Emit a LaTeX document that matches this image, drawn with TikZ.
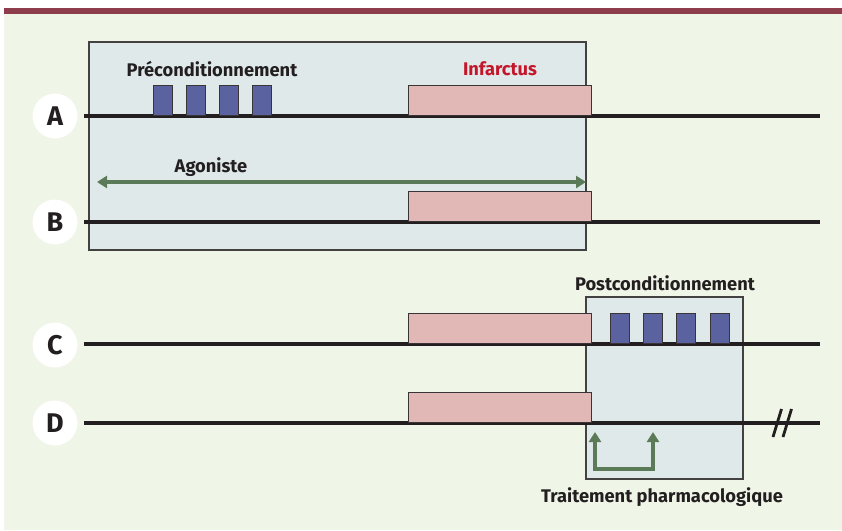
\documentclass[tikz,border=0pt]{standalone}
\usepackage{fontspec}
\setmainfont{Fira Sans}
\usetikzlibrary{arrows.meta}
\definecolor{bg}{HTML}{EFF5E7}
\definecolor{band}{HTML}{8E3D4D}
\definecolor{zone}{HTML}{E0E9EA}
\definecolor{pulse}{HTML}{5A63A0}
\definecolor{infc}{HTML}{E2B8B7}
\definecolor{agc}{HTML}{5B7B58}
\definecolor{redtxt}{HTML}{C4162B}
\definecolor{ink}{HTML}{231F20}
\tikzset{
  zonebox/.style={draw=ink!85, line width=1.5pt, fill=zone},
  tline/.style={draw=ink, line width=3.2pt},
  pulsebox/.style={draw=ink!90, line width=1.3pt, fill=pulse, anchor=south west, minimum width=19pt, minimum height=30pt, inner sep=0pt},
  infbox/.style={draw=ink!90, line width=1.3pt, fill=infc, anchor=south west, minimum width=183pt, minimum height=30pt, inner sep=0pt},
  letter/.style={circle, fill=white, minimum size=45pt, inner sep=0pt, font=\fontsize{27}{27}\selectfont\bfseries, text=ink},
  lab/.style={font=\fontsize{18.3}{19}\selectfont\bfseries, text=ink, inner sep=0pt},
  garrow/.style={draw=agc, line width=3.6pt, {Triangle[length=10pt,width=12pt]}-{Triangle[length=10pt,width=12pt]}},
  brk/.style={draw=ink, line width=2.8pt}
}
\begin{document}
\begin{tikzpicture}[x=1pt,y=-1pt]
\useasboundingbox (0,0) rectangle (842,530);
\fill[white] (0,0) rectangle (842,530);
\fill[bg] (4,13) rectangle (842,530);
\fill[band] (4,8) rectangle (842,13.5);
% zones
\draw[zonebox] (89,42) rectangle (586,250);
\draw[zonebox] (586,297) rectangle (743,479);
% timelines
\coordinate (A0) at (84,116); \coordinate (A1) at (820,116);
\coordinate (B0) at (84,222); \coordinate (B1) at (820,222);
\coordinate (C0) at (84,344); \coordinate (C1) at (820,344);
\coordinate (D0) at (84,423); \coordinate (D1) at (820,423);
\draw[tline] (A0) -- (A1);
\draw[tline] (B0) -- (B1);
\draw[tline] (C0) -- (C1);
\draw[tline] (D0) -- (D1);
% infarct boxes
\node[infbox] (iA) at (408,116) {};
\node[infbox] (iB) at (408,222) {};
\node[infbox] (iC) at (408,344) {};
\node[infbox] (iD) at (408,423) {};
% pulses
\node[pulsebox] (p1) at (153,116) {};
\node[pulsebox] (p2) at (186,116) {};
\node[pulsebox] (p3) at (219,116) {};
\node[pulsebox] (p4) at (252,116) {};
\node[pulsebox] (q1) at (609.5,344) {};
\node[pulsebox] (q2) at (642.5,344) {};
\node[pulsebox] (q3) at (676,344) {};
\node[pulsebox] (q4) at (709.5,344) {};
% letters
\node[letter] (LA) at (55,116) {A};
\node[letter] (LB) at (55,222) {B};
\node[letter] (LC) at (55,345) {C};
\node[letter] (LD) at (55,423) {D};
% labels
\node[lab] (tpre) at (212,69) {Préconditionnement};
\node[lab, text=redtxt] (tinf) at (500,69) {Infarctus};
\node[lab] (tago) at (211,167) {Agoniste};
\node[lab] (tpost) at (665,283) {Postconditionnement};
\node[lab] (ttrt) at (662,497) {Traitement pharmacologique};
% agonist arrow
\coordinate (ag0) at (97,182); \coordinate (ag1) at (586,182);
\draw[garrow] (ag0) -- (ag1);
% pharmacological bracket
\coordinate (t1) at (595,432); \coordinate (b1) at (595,469);
\coordinate (b2) at (653,469); \coordinate (t2) at (653,432);
\draw[garrow, line join=miter] (t1) -- (b1) -- (b2) -- (t2);
% break
\coordinate (k1a) at (773,437); \coordinate (k1b) at (781.5,409);
\coordinate (k2a) at (783,437); \coordinate (k2b) at (791.5,409);
\draw[brk] (k1a) -- (k1b);
\draw[brk] (k2a) -- (k2b);
\end{tikzpicture}
\end{document}
